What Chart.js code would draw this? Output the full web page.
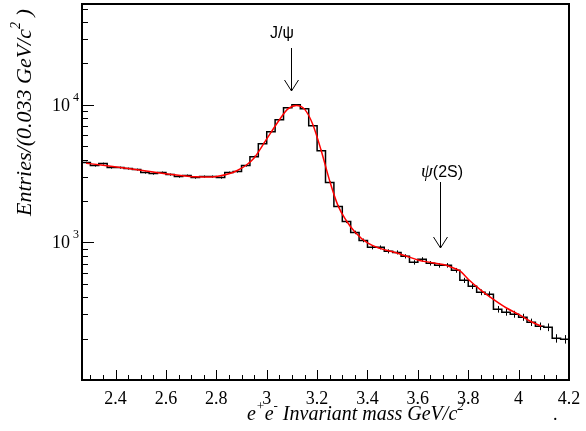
<!DOCTYPE html>
<html>
<head>
<meta charset="utf-8">
<script src="https://cdn.jsdelivr.net/npm/chart.js@4.4.0/dist/chart.umd.min.js"></script>
<style>
html, body { margin: 0; padding: 0; background: #fff; }
#wrap { width: 586px; height: 431px; }
</style>
</head>
<body>
<div id="wrap"><canvas id="myChart" width="586" height="431"></canvas></div>
<script>
// histogram range and entries per 0.033 GeV bin
var xMin = 2.2667, xMax = 4.2;
var yMin = 100, yMax = 54000;
var counts = [3800, 3614, 3736, 3496, 3496, 3438, 3381, 3216, 3162, 3216,
              3110, 3008, 3058, 2958, 3008, 3008, 2958, 3216, 3270, 3614,
              4200, 5217, 6373, 7785, 9512, 10000, 9355, 7044, 4642, 2722,
              1823, 1419, 1182, 1034, 920, 920, 861, 846, 792, 716,
              753, 705, 681, 681, 627, 530, 480, 434, 420, 327,
              311, 301, 286, 263, 246, 242, 201, 198];

// fitted curve (red)
var fitX = [2.283, 2.35, 2.45, 2.55, 2.65, 2.72, 2.78, 2.85, 2.883, 2.917, 2.95, 2.983,
            3.017, 3.05, 3.083, 3.117, 3.15, 3.183, 3.217, 3.25, 3.283, 3.317, 3.35,
            3.40, 3.45, 3.50, 3.55, 3.60, 3.65, 3.70, 3.733, 3.767, 3.80, 3.85, 3.90,
            3.95, 4.00, 4.05, 4.09];
var fitY = [3760, 3640, 3450, 3250, 3080, 3000, 2990, 3150, 3330, 3620, 4100, 5050,
            6300, 7750, 9300, 9900, 9300, 7200, 4600, 2800, 1850, 1430, 1190,
            990, 905, 855, 800, 745, 715, 690, 660, 620, 540, 450, 385,
            335, 300, 265, 246];

var xTickLabels = [2.4, 2.6, 2.8, 3, 3.2, 3.4, 3.6, 3.8, 4, 4.2];
var yTickLabels = [1000, 10000];

var binWidth = (xMax - xMin) / counts.length;
var histPoints = counts.map(function (c, i) { return { x: xMin + i * binWidth, y: c }; });
histPoints.push({ x: xMax, y: counts[counts.length - 1] });
var fitPoints = fitX.map(function (x, i) { return { x: x, y: fitY[i] }; });

var serif = '"Liberation Serif", "Times New Roman", serif';
var sans = '"Liberation Sans", Arial, sans-serif';

function drawPieces(ctx, x, y, pieces) {
    // pieces: [text, font, dy]
    pieces.forEach(function (p) {
        ctx.font = p[1];
        ctx.fillText(p[0], x, y + (p[2] || 0));
        x += ctx.measureText(p[0]).width;
    });
}

var errorBars = {
    id: 'errorBars',
    beforeDatasetsDraw: function (chart) {
        var ctx = chart.ctx, xs = chart.scales.x, ys = chart.scales.y;
        ctx.save();
        ctx.strokeStyle = '#000';
        ctx.lineWidth = 1;
        counts.forEach(function (c, i) {
            var px = Math.round(xs.getPixelForValue(xMin + (i + 0.5) * binWidth)) + 0.5;
            var e = Math.sqrt(c);
            ctx.beginPath();
            ctx.moveTo(px, ys.getPixelForValue(c + e));
            ctx.lineTo(px, ys.getPixelForValue(c - e));
            ctx.stroke();
        });
        ctx.restore();
    }
};

var frameAndText = {
    id: 'frameAndText',
    afterDraw: function (chart) {
        var ctx = chart.ctx, a = chart.chartArea, xs = chart.scales.x, ys = chart.scales.y;
        ctx.save();
        ctx.strokeStyle = '#000';
        ctx.fillStyle = '#000';

        // frame
        ctx.lineWidth = 2;
        ctx.strokeRect(a.left, a.top, a.right - a.left, a.bottom - a.top);

        // x ticks, inside the frame
        ctx.lineWidth = 1;
        ctx.beginPath();
        for (var t = 2.3; t < xMax - 0.01; t += 0.05) {
            var px = Math.round(xs.getPixelForValue(t)) + 0.5;
            var major = xTickLabels.some(function (v) { return Math.abs(v - t) < 0.001; });
            ctx.moveTo(px, a.bottom);
            ctx.lineTo(px, a.bottom - (major ? 10 : 5));
        }
        // y ticks
        [100, 1000, 10000].forEach(function (d) {
            for (var m = 1; m <= 9; m++) {
                var v = d * m;
                if (v <= yMin || v >= yMax) continue;
                var py = Math.round(ys.getPixelForValue(v)) + 0.5;
                ctx.moveTo(a.left, py);
                ctx.lineTo(a.left + (m === 1 ? 12 : 6), py);
            }
        });
        ctx.stroke();

        // x tick labels
        ctx.font = '18px ' + serif;
        ctx.textAlign = 'center';
        ctx.textBaseline = 'alphabetic';
        xTickLabels.forEach(function (v) {
            ctx.fillText(String(v), xs.getPixelForValue(v), a.bottom + 24);
        });

        // y tick labels 10^n
        yTickLabels.forEach(function (v) {
            var py = ys.getPixelForValue(v);
            ctx.textAlign = 'right';
            ctx.font = '18px ' + serif;
            ctx.fillText('10', 70, py + 6);
            ctx.textAlign = 'left';
            ctx.font = '12px ' + serif;
            ctx.fillText(String(Math.round(Math.log10(v))), 73, py - 4);
        });

        // x title
        ctx.textAlign = 'left';
        var it = 'italic 20px ' + serif, itSup = 'italic 13px ' + serif;
        drawPieces(ctx, 247, 420, [['e', it], ['+', itSup, -10], ['e', it], ['-', itSup, -10],
            [' Invariant mass GeV/c', it], ['2', itSup, -10]]);
        ctx.font = '18px ' + serif;
        ctx.fillText('.', 553, 420);

        // y title, rotated
        var itY = 'italic 22px ' + serif, itYSup = 'italic 14px ' + serif;
        ctx.save();
        ctx.translate(31, 216);
        ctx.rotate(-Math.PI / 2);
        drawPieces(ctx, 0, 0, [['Entries/(0.033 GeV/c', itY], ['2', itYSup, -11], [' )', itY]]);
        ctx.restore();

        // J/psi label and arrow
        ctx.font = '16px ' + sans;
        ctx.textAlign = 'center';
        ctx.fillText('J/\u03C8', 282, 38);
        var ax = Math.round(xs.getPixelForValue(3.097)) + 0.5;
        ctx.lineWidth = 1;
        ctx.beginPath();
        ctx.moveTo(ax, 48); ctx.lineTo(ax, 91);
        ctx.moveTo(ax - 7, 80); ctx.lineTo(ax, 91); ctx.lineTo(ax + 7, 80);
        ctx.stroke();

        // psi(2S) label and arrow
        ctx.textAlign = 'left';
        drawPieces(ctx, 421, 177, [['\u03C8', 'italic 19px ' + serif], ['(2S)', '16px ' + sans]]);
        var bx = Math.round(xs.getPixelForValue(3.686)) + 0.5;
        ctx.beginPath();
        ctx.moveTo(bx, 182); ctx.lineTo(bx, 248);
        ctx.moveTo(bx - 7, 237); ctx.lineTo(bx, 248); ctx.lineTo(bx + 7, 237);
        ctx.stroke();

        ctx.restore();
    }
};

var ctx = document.getElementById('myChart').getContext('2d');
var chart = new Chart(ctx, {
    type: 'line',
    data: {
        datasets: [{
            label: 'fit',
            data: fitPoints,
            borderColor: 'rgb(255, 0, 0)',
            borderWidth: 1.5,
            pointRadius: 0,
            tension: 0.4,
            cubicInterpolationMode: 'monotone',
            fill: false,
            order: 0
        }, {
            label: 'data',
            data: histPoints,
            borderColor: '#000',
            borderWidth: 1.5,
            pointRadius: 0,
            stepped: true,
            fill: false,
            order: 1
        }]
    },
    options: {
        responsive: false,
        animation: false,
        layout: { padding: { left: 82, top: 4, right: 17, bottom: 51 } },
        plugins: { legend: { display: false }, tooltip: { enabled: false } },
        scales: {
            x: { type: 'linear', min: xMin, max: xMax, display: false },
            y: { type: 'logarithmic', min: yMin, max: yMax, display: false }
        }
    },
    plugins: [errorBars, frameAndText]
});
</script>
</body>
</html>
